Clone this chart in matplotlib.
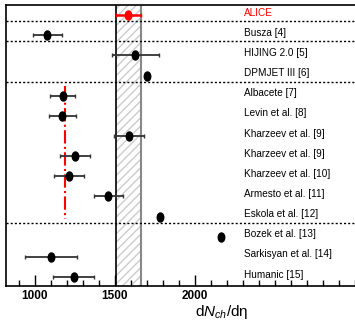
import matplotlib
matplotlib.use("Agg")
import matplotlib.pyplot as plt
from matplotlib.path import Path
from matplotlib.transforms import Affine2D

## model names, top to bottom
labels = ["ALICE", "Busza [4]", "HIJING 2.0 [5]", "DPMJET III [6]", "Albacete [7]",
          "Levin et al. [8]", "Kharzeev et al. [9]", "Kharzeev et al. [9]",
          "Kharzeev et al. [10]", "Armesto et al. [11]", "Eskola et al. [12]",
          "Bozek et al. [13]", "Sarkisyan et al. [14]", "Humanic [15]"]
values = [1584, 1077, 1627, 1700, 1175, 1171, 1587, 1250, 1212, 1458, 1783, 2162, 1100, 1242]
errors = [76, 92, 147, 0, 78, 86, 95, 95, 95, 92, 0, 0, 160, 127]

alice_val = 1584
alice_syst = 76
sep_rows = [0.3, 1.3, 3.3, 10.3]   # dotted separators
band_line = 1185                  # red dash-dot line
band_rows = (3.5, 10.1)

fam = ["Liberation Sans Narrow", "Liberation Sans", "DejaVu Sans"]
plt.rcParams["font.family"] = fam
plt.rcParams["mathtext.fontset"] = "custom"
plt.rcParams["mathtext.rm"] = "Liberation Sans"
plt.rcParams["mathtext.it"] = "Liberation Sans:italic"

fig = plt.figure(figsize=(3.55, 3.26), dpi=100)
ax = fig.add_axes([6/355, 40/326, 352/355, 281/326])

rows = list(range(len(labels)))

## ALICE band
ax.axvspan(alice_val - alice_syst, alice_val + alice_syst, facecolor="white",
           edgecolor="#cccccc", hatch="////", lw=0, zorder=0)
ax.axvline(alice_val - alice_syst, color="black", lw=1.2, zorder=1)
ax.axvline(alice_val + alice_syst, color="#888888", lw=1.5, zorder=1)

for y in sep_rows:
    ax.axhline(y, color="black", ls=(0, (1.5, 1.5)), lw=1, zorder=1)

ax.plot([band_line, band_line], band_rows, color="red", ls="-.", lw=1.5, zorder=2)

oval = Path.unit_circle().transformed(Affine2D().scale(0.72, 1.0))

for i in rows:
    c = "red" if i == 0 else "black"
    ec = "red" if i == 0 else "#333333"
    if errors[i] > 0:
        ax.errorbar(values[i], i, xerr=errors[i], fmt="none", ecolor=ec,
                    elinewidth=1.8 if i == 0 else 1.3, capsize=1.5, capthick=1, zorder=3)
    ax.plot(values[i], i, marker=oval, ms=6.5, color=c, ls="none", zorder=4)
    ax.text(2306, i - 0.12, labels[i], color=c, fontsize=7.2,
            ha="left", va="center", zorder=5)

ax.set_xlim(819, 3019)
ax.set_ylim(13.45, -0.5)
ax.set_yticks([])
ax.set_xticks([1000, 1500, 2000])
ax.set_xticks(range(900, 3001, 100), minor=True)
ax.tick_params(axis="x", which="major", direction="in", length=8, width=1,
               labelsize=8.5, pad=3)
ax.tick_params(axis="x", which="minor", direction="in", length=4, width=1)
for lab in ax.get_xticklabels():
    lab.set_fontweight("bold")
ax.spines["right"].set_visible(False)
for s in ["left", "top", "bottom"]:
    ax.spines[s].set_linewidth(1.2)

fig.text(222/355, 1 - 312/326, "d$N_{ch}$/d$\\mathrm{\\eta}$", fontsize=11,
         ha="center", va="center")

fig.savefig("out.png", dpi=100)
